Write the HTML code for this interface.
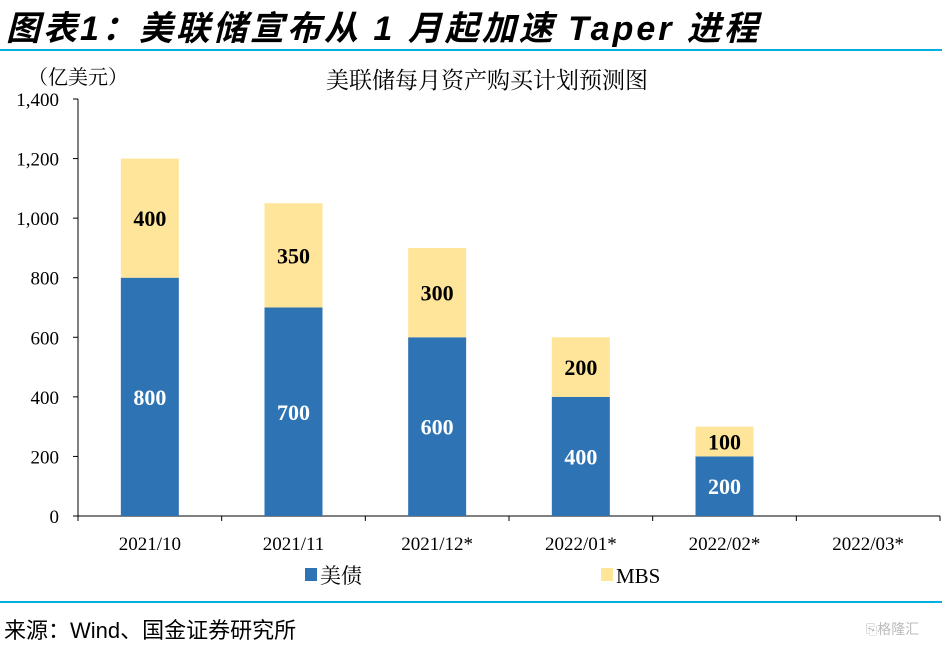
<!DOCTYPE html>
<html><head><meta charset="utf-8"><style>
body{margin:0;background:#fff;width:942px;height:647px;overflow:hidden;position:relative}
svg text{font-family:"Liberation Serif","Noto Serif CJK SC",serif}
</style></head><body>
<div style="position:absolute;left:6px;top:1px;font:italic 34px 'Liberation Sans','Noto Sans CJK SC',sans-serif;font-weight:bold;letter-spacing:3px;color:#000;white-space:nowrap">图表1：美联储宣布从 1 月起加速 Taper 进程</div>
<div style="position:absolute;left:0;top:49px;width:942px;height:2px;background:#00aee6"></div>
<div style="position:absolute;left:0;top:601px;width:942px;height:2px;background:#00aee6"></div>
<div style="position:absolute;left:4px;top:613px;font:22px 'Liberation Sans','Noto Sans CJK SC',sans-serif;color:#000">来源：Wind、国金证券研究所</div>
<div style="position:absolute;left:866px;top:619px;font:14px 'Noto Sans CJK SC',sans-serif;color:#bbb">⎘格隆汇</div>
<svg id="chart" width="942" height="647" style="position:absolute;left:0;top:0">
<text x="487" y="88" font-size="23" text-anchor="middle">美联储每月资产购买计划预测图</text>
<text x="28" y="84" font-size="20">（亿美元）</text>
<g id="g"></g>
</svg>
<script>
const categories=["2021/10","2021/11","2021/12*","2022/01*","2022/02*","2022/03*"];
const treasuries=[800,700,600,400,200,0];
const mbs=[400,350,300,200,100,0];
const yTicks=[0,200,400,600,800,1000,1200,1400];
const yTickLabels=["0","200","400","600","800","1,000","1,200","1,400"];
const x0=78,x1=940,y0=516,y1=99,yMax=1400;
const bw=(x1-x0)/categories.length;
const Y=v=>y0-(v/yMax)*(y0-y1);
const XC=i=>x0+bw*(i+0.5);
const g=document.getElementById('g');
const NS="http://www.w3.org/2000/svg";
function mk(t,a){const e=document.createElementNS(NS,t);for(const k in a)e.setAttribute(k,a[k]);g.appendChild(e);return e;}
let ax=mk('line',{x1:x0,y1:y0,x2:x0,y2:y1,stroke:'#000'});


yTicks.forEach((v,i)=>{
 const t=mk('line',{x1:x0-5,y1:Y(v),x2:x0,y2:Y(v),stroke:'#000'});
 
 
 const l=mk('text',{x:59,y:Y(v)+7,'font-size':19,'text-anchor':'end'});l.textContent=yTickLabels[i];
 
 
});
const xa=mk('line',{x1:x0,y1:y0,x2:x1,y2:y0,stroke:'#000'});


for(let i=0;i<=categories.length;i++){
 const t=mk('line',{x1:x0+bw*i,y1:y0,x2:x0+bw*i,y2:y0+5,stroke:'#000'});
 
 
}
const barW=58;
categories.forEach((c,i)=>{
 const cx=XC(i);
 const l=mk('text',{x:cx,y:550,'font-size':19,'text-anchor':'middle'});l.textContent=c;
 
 
 if(treasuries[i]>0){
  const r=mk('rect',{x:cx-barW/2,y:Y(treasuries[i]),width:barW,height:y0-Y(treasuries[i]),fill:'#2e74b5'});
  
  
  const t=mk('text',{x:cx,y:(Y(treasuries[i])+y0)/2+8,'font-size':22,'font-weight':'bold',fill:'#fff','text-anchor':'middle'});t.textContent=treasuries[i];
  
  
 }
 if(mbs[i]>0){
  const top=treasuries[i]+mbs[i];
  const r=mk('rect',{x:cx-barW/2,y:Y(top),width:barW,height:Y(treasuries[i])-Y(top),fill:'#ffe599'});
  
  
  const t=mk('text',{x:cx,y:(Y(top)+Y(treasuries[i]))/2+8,'font-size':22,'font-weight':'bold',fill:'#000','text-anchor':'middle'});t.textContent=mbs[i];
  
  
 }
});
let s=mk('rect',{x:305,y:568,width:12,height:13,fill:'#2e74b5'});


let lt=mk('text',{x:320,y:583,'font-size':21});lt.textContent='美债';


s=mk('rect',{x:601,y:568,width:12,height:13,fill:'#ffe599'});


lt=mk('text',{x:616,y:583,'font-size':21});lt.textContent='MBS';


</script>
</body></html>
